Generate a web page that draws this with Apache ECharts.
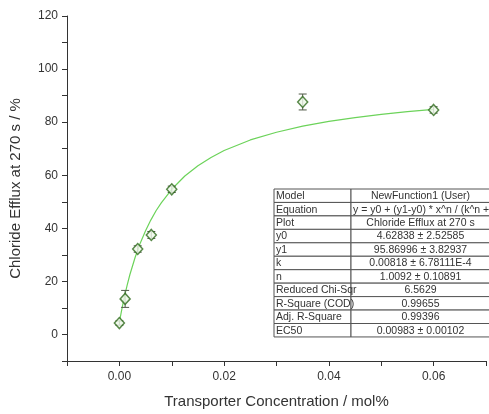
<!DOCTYPE html>
<html>
<head>
<meta charset="utf-8">
<script src="https://cdn.jsdelivr.net/npm/echarts@6/dist/echarts.min.js"></script>
<style>
  html, body { margin: 0; padding: 0; background: #fff; }
  #chart { width: 489px; height: 414px; }
</style>
</head>
<body>
<div id="chart"></div>
<script>
// measured points (concentration, efflux, error)
var conc = [0, 0.0011, 0.0035, 0.0061, 0.0100, 0.0350, 0.0600];
var efflux = [4.3, 13.4, 32.2, 37.5, 54.7, 87.6, 84.6];
var errs = [0.8, 3.2, 1.2, 1.3, 1.2, 3.0, 1.2];

// fitted curve
var fitX = [0, 0.0005, 0.001, 0.0015, 0.002, 0.003, 0.004, 0.005, 0.006, 0.007, 0.008,
  0.010, 0.0125, 0.015, 0.0175, 0.020, 0.025, 0.030, 0.035, 0.040, 0.045, 0.050, 0.055, 0.060];
var fitY = [4.6, 9.8, 14.5, 18.7, 22.5, 29.0, 34.5, 39.1, 43.1, 46.6, 49.6,
  54.7, 59.7, 63.6, 66.7, 69.3, 73.3, 76.2, 78.5, 80.3, 81.7, 82.9, 84.0, 84.8];

// fit report table
var tableKeys = ['Model', 'Equation', 'Plot', 'y0', 'y1', 'k', 'n', 'Reduced Chi-Sqr',
  'R-Square (COD)', 'Adj. R-Square', 'EC50'];
var tableVals = ['NewFunction1 (User)', 'y = y0 + (y1-y0) * x^n / (k^n + x^n)',
  'Chloride Efflux at 270 s', '4.62838 \u00b1 2.52585', '95.86996 \u00b1 3.82937',
  '0.00818 \u00b1 6.78111E-4', '1.0092 \u00b1 0.10891', '6.5629', '0.99655', '0.99396',
  '0.00983 \u00b1 0.00102'];

var pts = conc.map(function (x, i) { return [x, efflux[i]]; });
var errData = conc.map(function (x, i) { return [x, efflux[i] - errs[i], efflux[i] + errs[i]]; });
var fitData = fitX.map(function (x, i) { return [x, fitY[i]]; });

// table drawn with graphic elements
var tx = 274, ty = 189, rowH = 13.45, c1 = 77, c2 = 139;
var font = 'Liberation Sans, Arial';
var tableEls = [];
tableKeys.forEach(function (k, i) {
  var y = ty + i * rowH;
  tableEls.push({ type: 'rect', shape: { x: tx, y: y, width: c1, height: rowH },
    style: { fill: '#fff', stroke: '#555', lineWidth: 1 } });
  tableEls.push({ type: 'rect', shape: { x: tx + c1, y: y, width: c2, height: rowH },
    style: { fill: '#fff', stroke: '#555', lineWidth: 1 } });
  tableEls.push({ type: 'text', x: tx + 2, y: y + rowH / 2 + 0.5,
    style: { text: k, fontSize: 10.5, fontFamily: font, fill: '#333',
      verticalAlign: 'middle', align: 'left' } });
  // the equation is too long for its cell: it starts at the divider and runs off the edge
  var wide = k === 'Equation';
  tableEls.push({ type: 'text', x: wide ? tx + c1 + 2 : tx + c1 + c2 / 2, y: y + rowH / 2 + 0.5,
    style: { text: tableVals[i], fontSize: 10.5, fontFamily: font, fill: '#333',
      verticalAlign: 'middle', align: wide ? 'left' : 'center' } });
});

var chart = echarts.init(document.getElementById('chart'));
var option = {
  backgroundColor: '#fff',
  animation: false,
  textStyle: { fontFamily: font },
  grid: { left: 66, top: 16, width: 429, height: 348 },
  xAxis: {
    type: 'value', min: -0.01, max: 0.07, interval: 0.01,
    name: 'Transporter Concentration / mol%', nameLocation: 'middle', nameGap: 33,
    nameTextStyle: { fontSize: 15, color: '#333' },
    axisLine: { onZero: false, lineStyle: { color: '#333', width: 1 } },
    axisTick: { show: true, length: 5, lineStyle: { color: '#333' } },
    axisLabel: {
      fontSize: 12, color: '#333', margin: 10,
      formatter: function (v) {
        var n = Math.round(v * 100);
        if (n % 2 !== 0 || n < 0 || n > 6) return '';
        return v.toFixed(2);
      }
    },
    splitLine: { show: false }
  },
  yAxis: {
    type: 'value', min: -10, max: 120, interval: 10,
    name: 'Chloride Efflux at 270 s / %', nameLocation: 'middle', nameGap: 44,
    nameTextStyle: { fontSize: 15, color: '#333' },
    axisLine: { show: true, onZero: false, lineStyle: { color: '#333', width: 1 } },
    axisTick: { show: true, length: 5, lineStyle: { color: '#333' } },
    axisLabel: {
      fontSize: 12, color: '#333', margin: 9,
      formatter: function (v) {
        var n = Math.round(v);
        if (n % 20 !== 0) return '';
        return String(n);
      }
    },
    splitLine: { show: false }
  },
  series: [
    {
      type: 'line', data: fitData, showSymbol: false, smooth: false,
      lineStyle: { color: '#6cd35a', width: 1.2 }, z: 2
    },
    {
      type: 'custom', data: errData, z: 3,
      renderItem: function (params, api) {
        var x = api.value(0);
        var lo = api.coord([x, api.value(1)]);
        var hi = api.coord([x, api.value(2)]);
        var w = 4;
        var st = { stroke: '#505a48', lineWidth: 1 };
        return {
          type: 'group',
          children: [
            { type: 'line', shape: { x1: lo[0], y1: lo[1], x2: hi[0], y2: hi[1] }, style: st },
            { type: 'line', shape: { x1: lo[0] - w, y1: lo[1], x2: lo[0] + w, y2: lo[1] }, style: st },
            { type: 'line', shape: { x1: hi[0] - w, y1: hi[1], x2: hi[0] + w, y2: hi[1] }, style: st }
          ]
        };
      }
    },
    {
      type: 'scatter', data: pts, symbol: 'diamond', symbolSize: [10, 11], z: 4,
      itemStyle: { color: '#eef7e8', borderColor: '#2e6a1c', borderWidth: 1.5 }
    }
  ],
  graphic: tableEls
};
chart.setOption(option);
</script>
</body>
</html>
